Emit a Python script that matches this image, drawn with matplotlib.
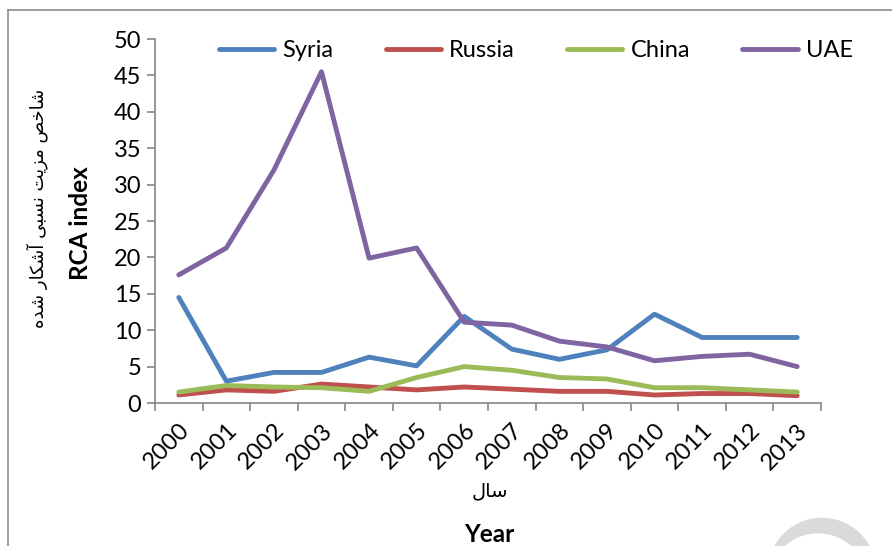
import matplotlib
matplotlib.use("Agg")
import matplotlib.pyplot as plt
from matplotlib.lines import Line2D
from matplotlib.patches import Circle
import numpy as np

years = ["2000", "2001", "2002", "2003", "2004", "2005", "2006", "2007",
         "2008", "2009", "2010", "2011", "2012", "2013"]
syria = [14.5, 3.0, 4.2, 4.2, 6.3, 5.1, 11.9, 7.4, 6.0, 7.3, 12.2, 9.0, 9.0, 9.0]
russia = [1.1, 1.8, 1.6, 2.6, 2.2, 1.8, 2.2, 1.9, 1.6, 1.6, 1.1, 1.3, 1.3, 1.0]
china = [1.5, 2.4, 2.2, 2.1, 1.6, 3.5, 5.0, 4.5, 3.5, 3.3, 2.1, 2.1, 1.8, 1.5]
uae = [17.6, 21.3, 32.0, 45.5, 19.9, 21.3, 11.1, 10.7, 8.5, 7.7, 5.8, 6.4, 6.7, 5.0]
series_names = ["Syria", "Russia", "China", "UAE"]
series_colors = ["#4F81BD", "#C0504D", "#9BBB59", "#8064A2"]
yticks = [0, 5, 10, 15, 20, 25, 30, 35, 40, 45, 50]

# Persian labels in presentation forms (visual order)
fa_ylabel = "\uFEE9\uFEAA\uFEB7 \uFEAD\uFE8E\uFB91\uFEB7\uFE81 \uFBFD\uFE92\uFEB4\uFEE7 \uFE96\uFBFE\uFEB0\uFEE3 \uFEBA\uFEA7\uFE8E\uFEB7"
fa_xlabel = "\uFEDD\uFE8E\uFEB3"

plt.rcParams['font.family'] = ['Lato', 'DejaVu Sans']

W, H = 892, 546
fig = plt.figure(figsize=(W / 100, H / 100), dpi=100)
ax = fig.add_axes([155 / W, 1 - 403 / H, (821 - 155) / W, (403 - 39) / H])

x = np.arange(len(years))
for vals, name, col in zip([syria, russia, china, uae], series_names, series_colors):
    ax.plot(x, vals, color=col, lw=3.5, label=name, solid_capstyle='round',
            solid_joinstyle='round')

ax.set_xlim(-0.5, len(years) - 0.5)
ax.set_ylim(0, 50)
ax.set_yticks(yticks)
ax.set_yticklabels([str(v) for v in yticks], fontsize=17)

ax.set_xticks(np.arange(-0.5, len(years), 1.0))
ax.set_xticklabels([])
ax.set_xticks(x, minor=True)
ax.set_xticklabels(years, minor=True, rotation=45, ha='right', va='top',
                   rotation_mode='anchor', fontsize=17)
ax.tick_params(axis='x', which='minor', length=0, pad=12)
ax.tick_params(axis='x', which='major', length=6, width=1.2, color='#868686', direction='out')
ax.tick_params(axis='y', length=6, width=1.2, color='#868686', direction='out', pad=4)

for s in ['top', 'right']:
    ax.spines[s].set_visible(False)
for s in ['left', 'bottom']:
    ax.spines[s].set_color('#868686')
    ax.spines[s].set_linewidth(1.2)

leg = ax.legend(loc='upper center', bbox_to_anchor=(0.572, 1.055), ncol=4, frameon=False,
                fontsize=17, handlelength=2.35, columnspacing=2.2, handletextpad=0.35)

fig.text(81 / W, 1 - 223 / H, "RCA index", rotation=90, ha='center', va='center',
         fontsize=17.5, fontweight='bold')
fig.text(37 / W, 1 - 208 / H, fa_ylabel, rotation=90, ha='center', va='center',
         fontsize=13, family=['DejaVu Sans'])
fig.text(490 / W, 1 - 491 / H, fa_xlabel, ha='center', va='center', fontsize=14,
         family=['DejaVu Sans'])
fig.text(489 / W, 1 - 535 / H, "Year", ha='center', va='center', fontsize=17.5,
         fontweight='bold')

# outer frame (top and left edges visible)
fig.add_artist(Line2D([8 / W, 1.0], [1 - 10 / H, 1 - 10 / H], transform=fig.transFigure,
                      color='#8c8c8c', lw=1.2))
fig.add_artist(Line2D([8 / W, 8 / W], [0, 1 - 10 / H], transform=fig.transFigure,
                      color='#8c8c8c', lw=1.2))

# light grey crescent watermark at bottom right
fig.add_artist(Circle((822 / 100, (H - 572) / 100), 54.3 / 100, transform=fig.dpi_scale_trans,
                      facecolor='#dadada', edgecolor='none'))
fig.add_artist(Circle((818 / 100, (H - 583) / 100), 49.7 / 100, transform=fig.dpi_scale_trans,
                      facecolor='white', edgecolor='none'))

fig.savefig("out.png", dpi=100)
